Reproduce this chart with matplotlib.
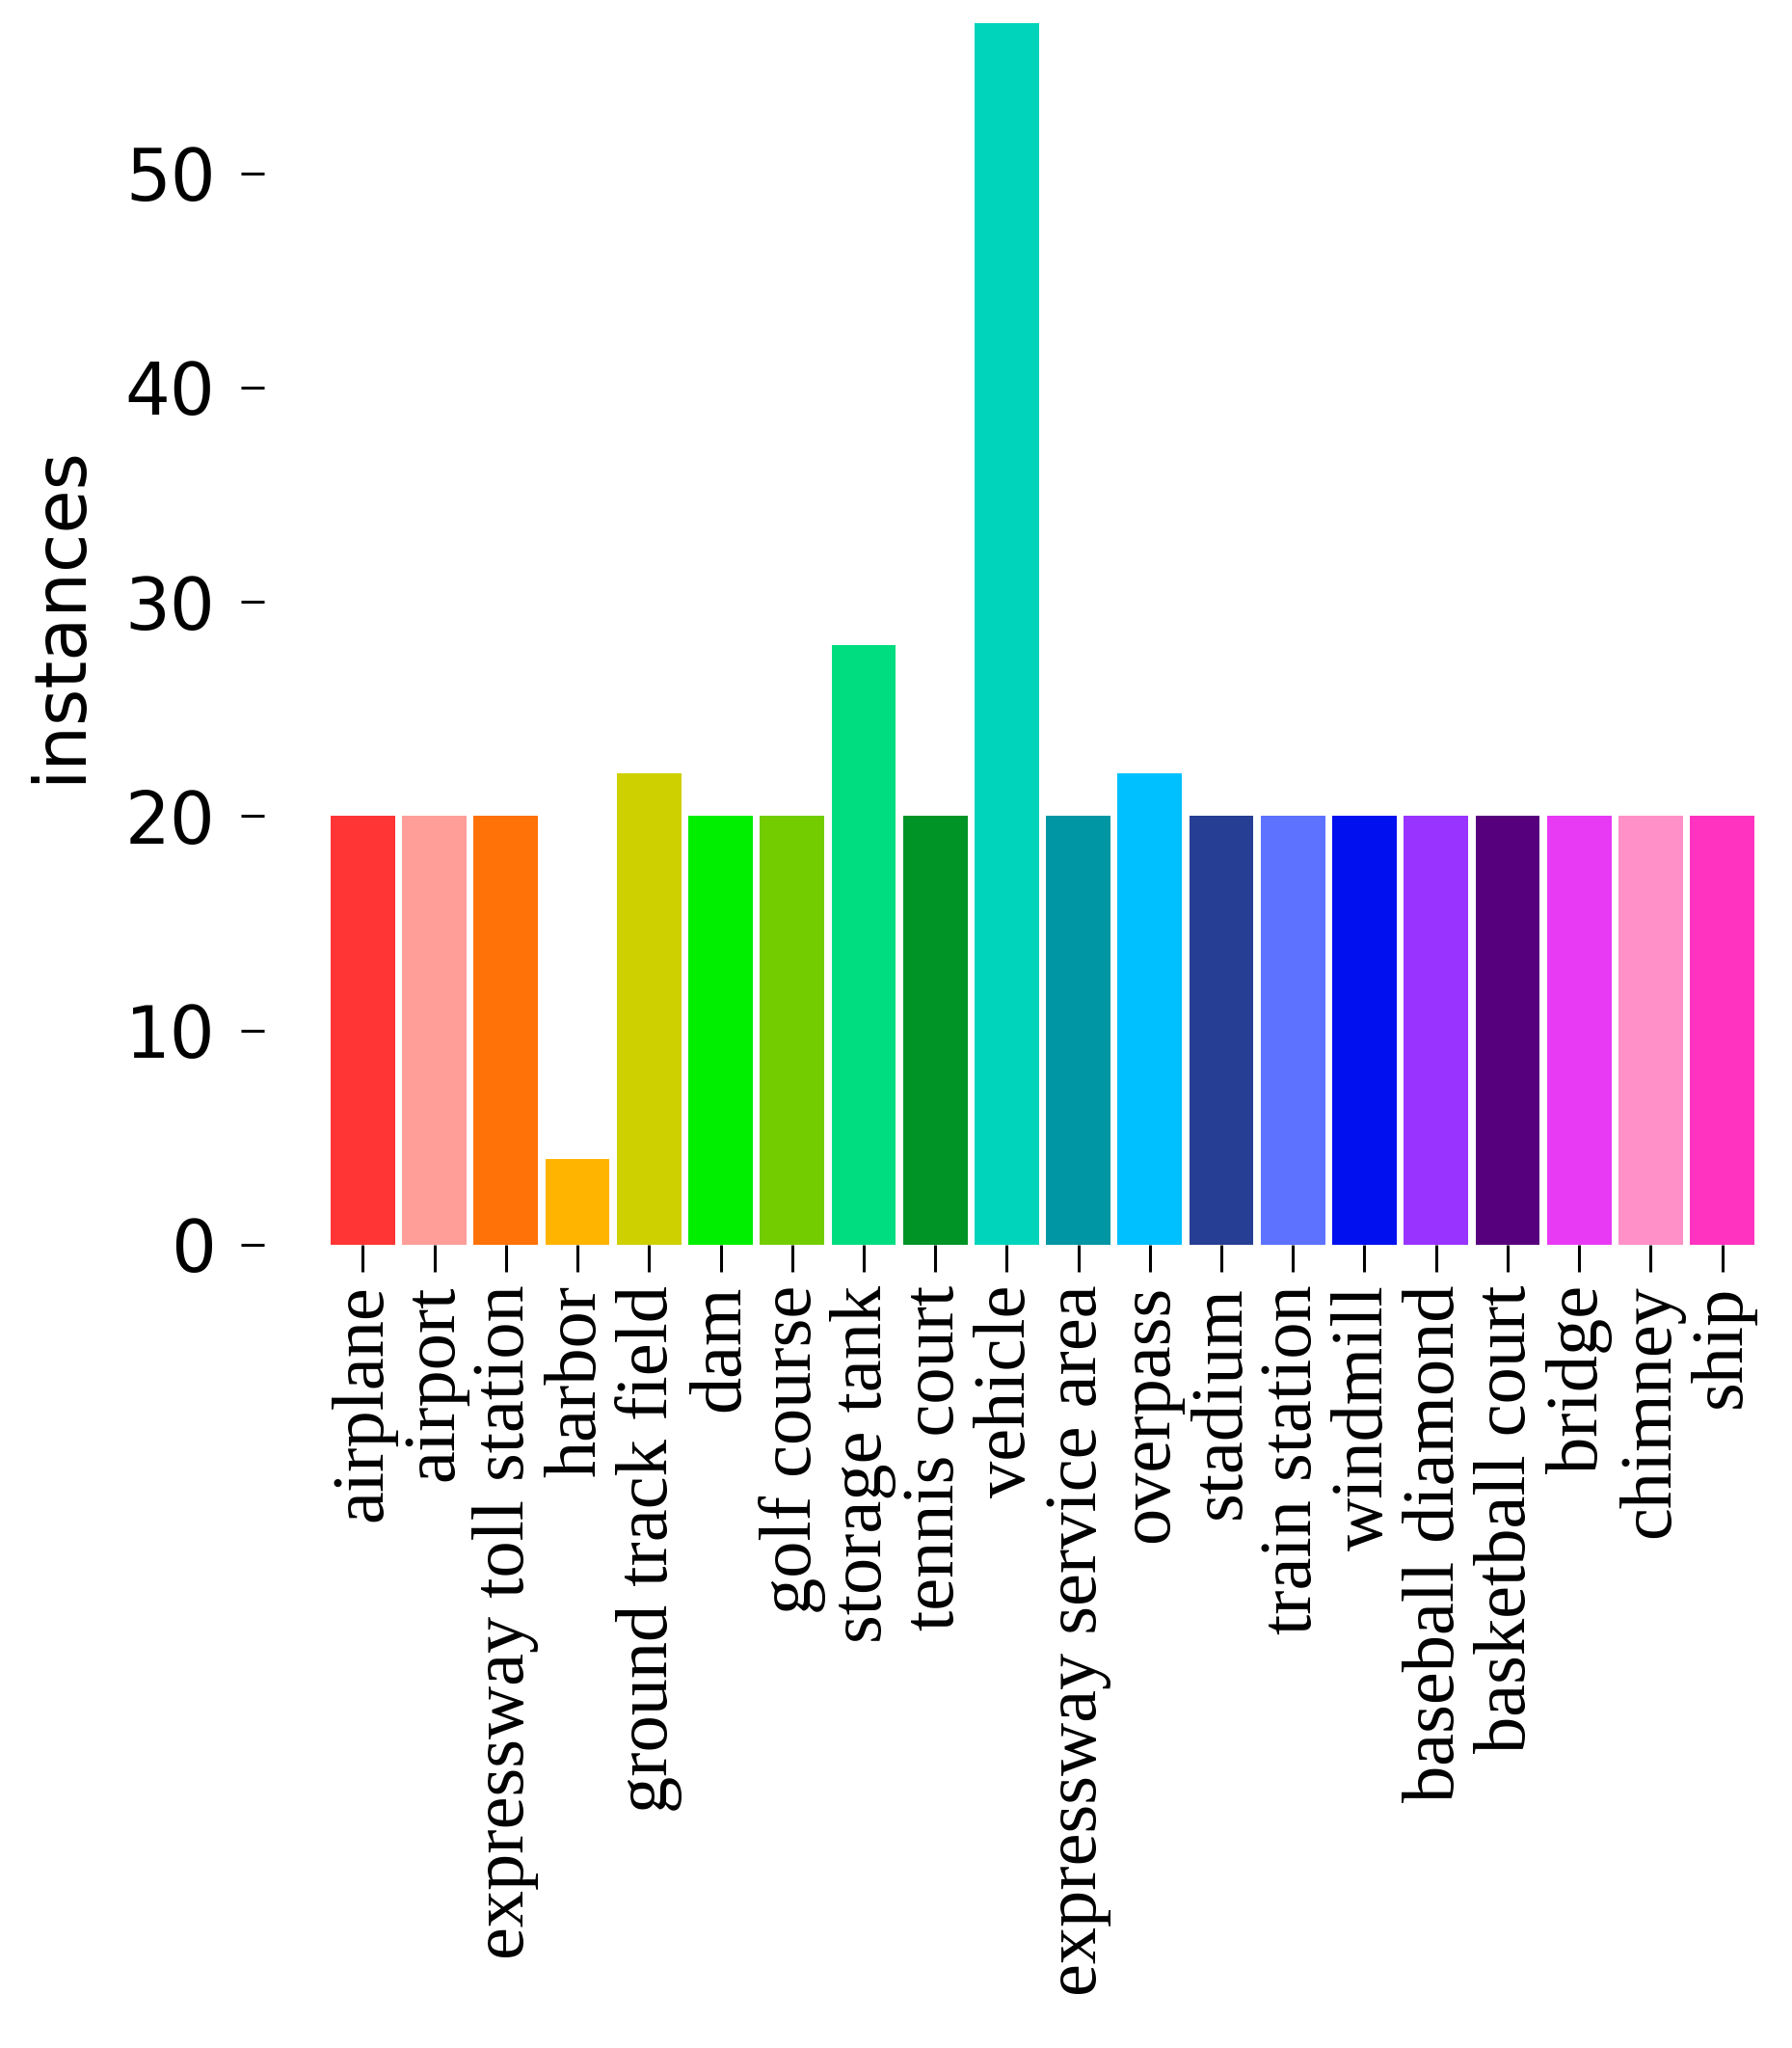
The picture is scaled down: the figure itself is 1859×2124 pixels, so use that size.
import matplotlib
matplotlib.use("Agg")
import matplotlib.pyplot as plt

categories = ["airplane", "airport", "expressway toll station", "harbor",
              "ground track field", "dam", "golf course", "storage tank",
              "tennis court", "vehicle", "expressway service area", "overpass",
              "stadium", "train station", "windmill", "baseball diamond",
              "basketball court", "bridge", "chimney", "ship"]
instances = [20, 20, 20, 4, 22, 20, 20, 28, 20, 57, 20, 22, 20, 20, 20, 20, 20, 20, 20, 20]
colors = ["#FF3535", "#FF9E99", "#FF7208", "#FFB400", "#CFD000", "#00EE00",
          "#72CC00", "#00DD80", "#009326", "#00D5BC", "#0096A3", "#00C0FF",
          "#263F94", "#5D72FF", "#0010EE", "#9933FF", "#57007D", "#E83AF5",
          "#FF90C8", "#FF33C0"]
yticks = [0, 10, 20, 30, 40, 50]

W, H = 1859, 2124
fig = plt.figure(figsize=(W / 100, H / 100), dpi=100)
left, right = 343 / W, 1820 / W
bottom, top = 1 - 1291 / H, 1 - 24 / H
ax = fig.add_axes([left, bottom, right - left, top - bottom])

x = list(range(len(categories)))
ax.bar(x, instances, width=0.9, color=colors, linewidth=0)
ax.set_xlim(-0.45, len(categories) - 1 + 0.45)
ax.set_ylim(0, 57)

for s in ax.spines.values():
    s.set_visible(False)
ax.spines['left'].set_position(('outward', 50))

ax.set_yticks(yticks)
ax.set_yticklabels([str(v) for v in yticks], fontsize=53, family="DejaVu Sans")
ax.tick_params(axis='y', length=17, width=2.2, pad=19)

ax.set_xticks(x)
ax.set_xticklabels(categories, rotation=90, fontsize=55, family="Liberation Serif")
ax.tick_params(axis='x', length=20, width=2.2, pad=10)

ax.set_ylabel("instances", fontsize=53, family="DejaVu Sans")
ax.yaxis.set_label_coords(-0.165, 0.516)

fig.savefig("out.png", dpi=100)
